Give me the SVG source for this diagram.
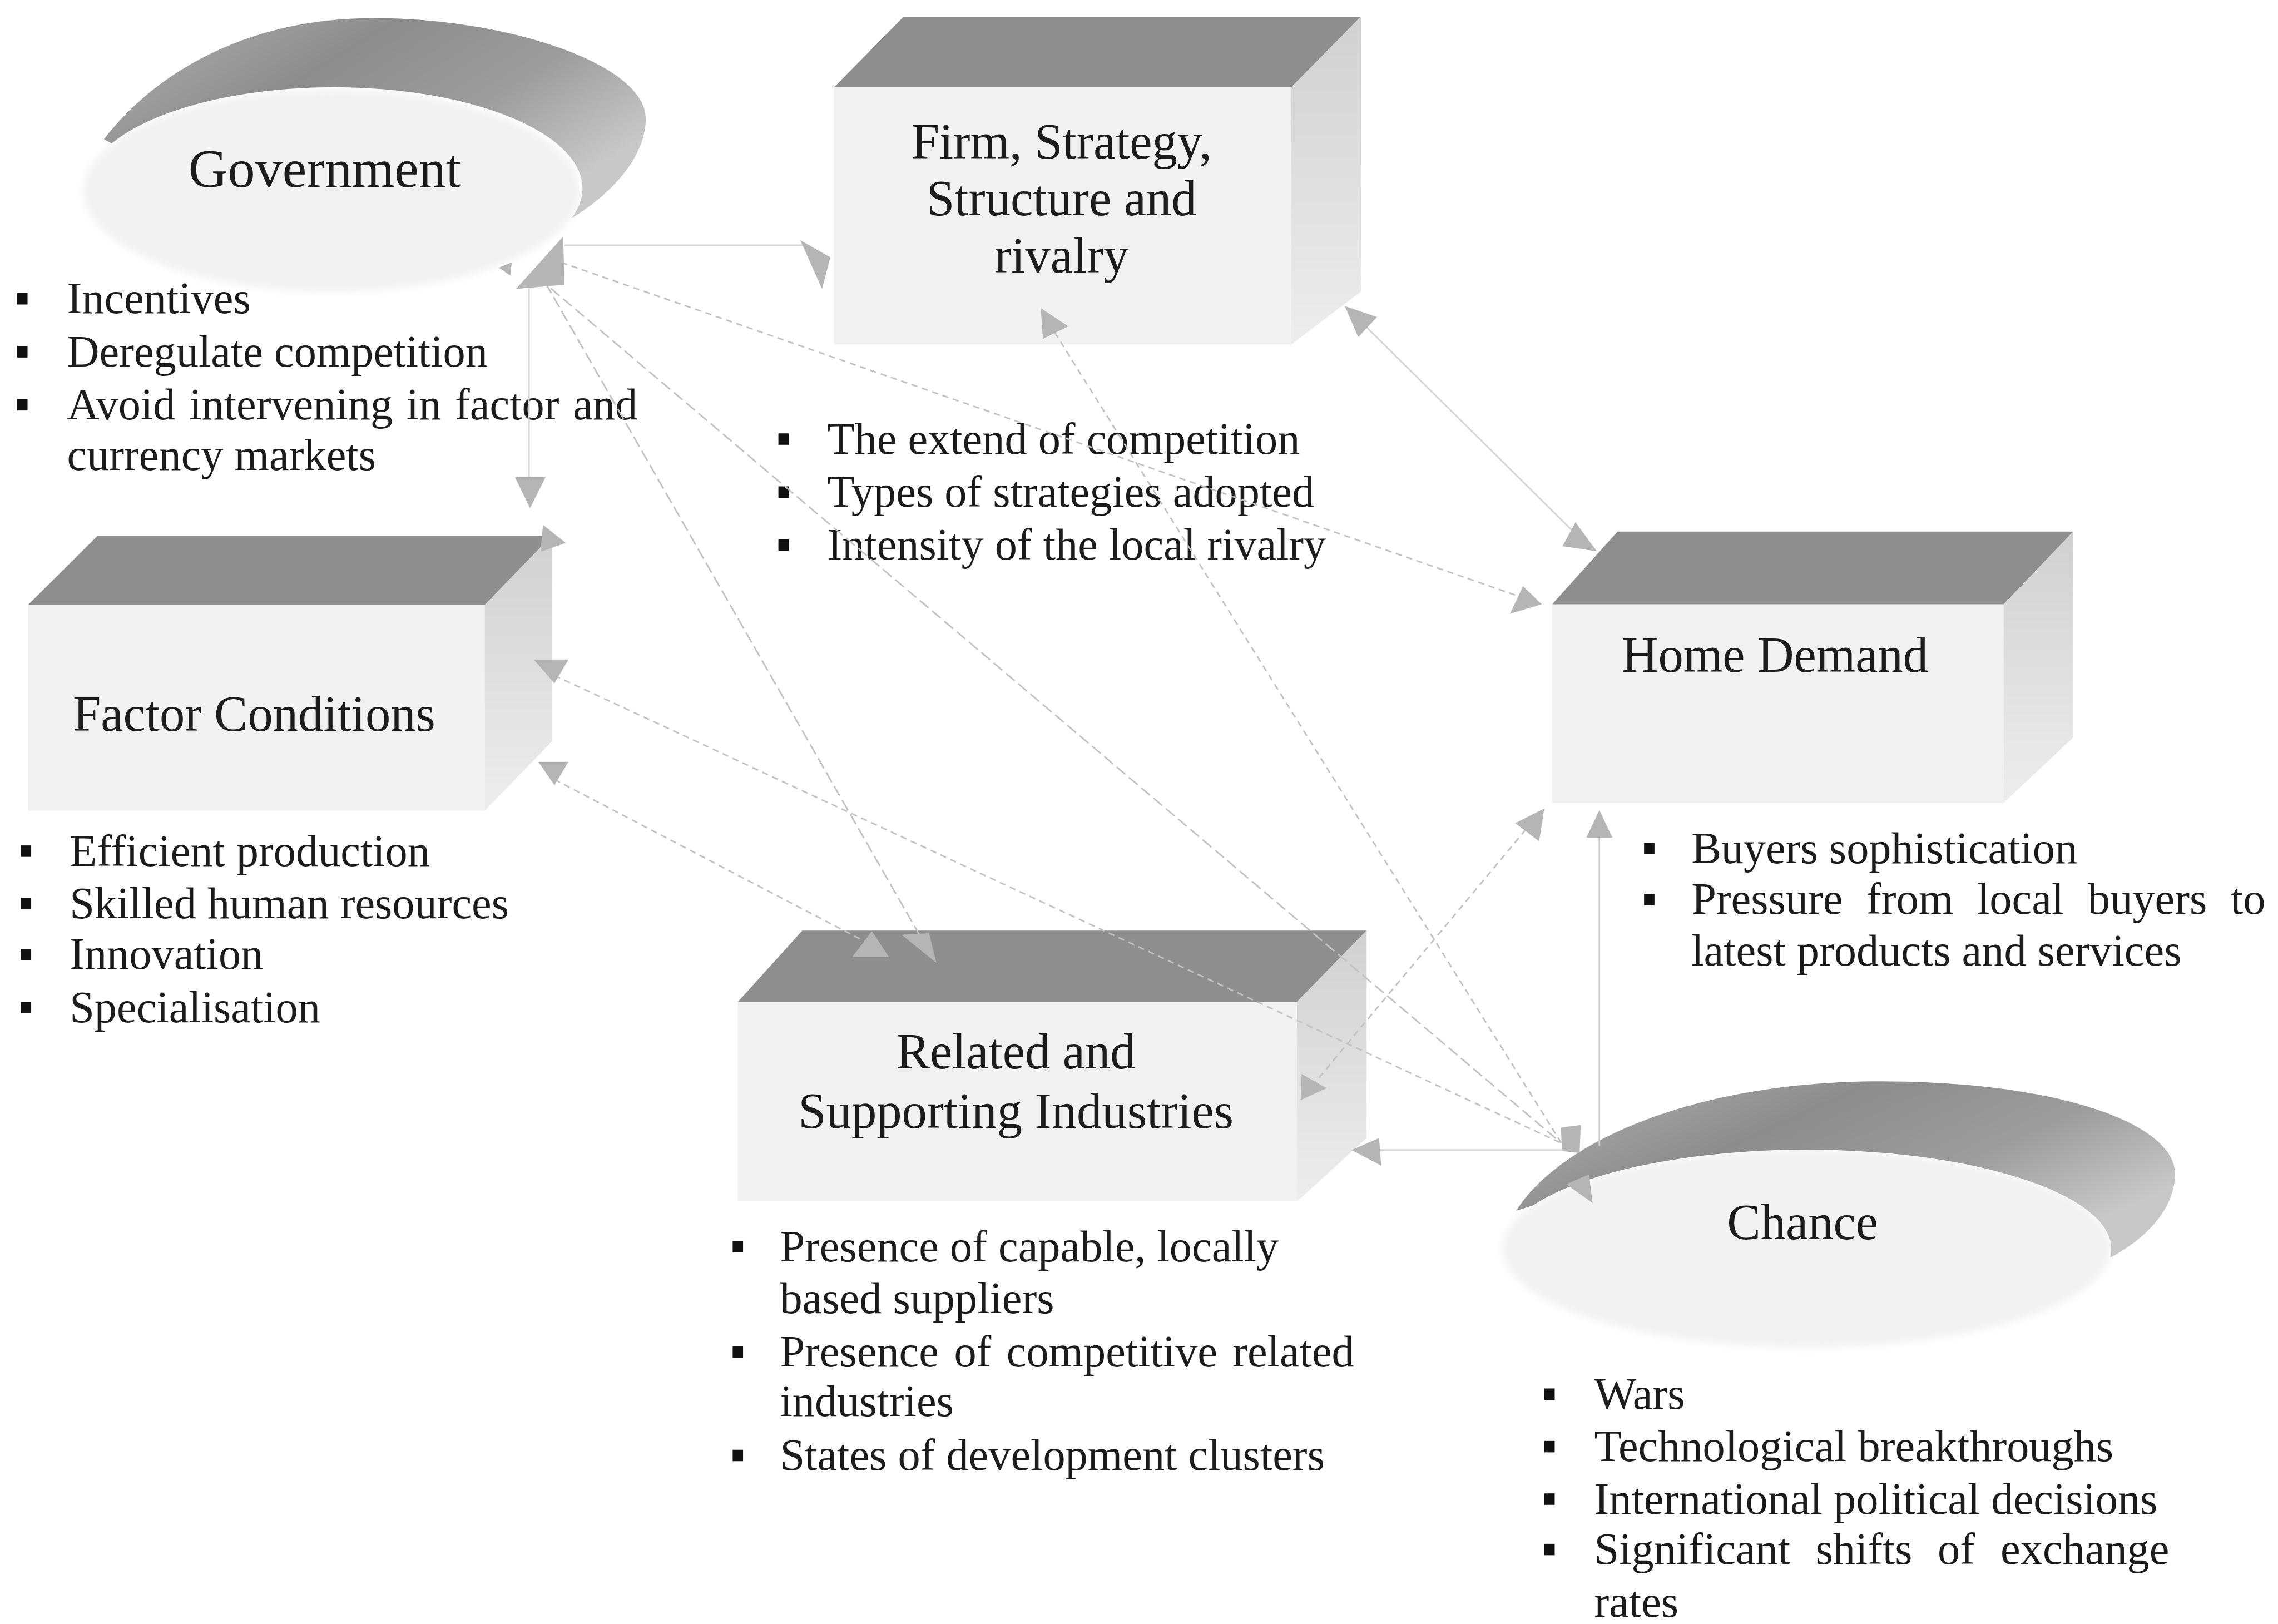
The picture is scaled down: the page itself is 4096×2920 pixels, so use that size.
<svg xmlns="http://www.w3.org/2000/svg" width="4096" height="2920" viewBox="0 0 4096 2920">
<defs>
<style>
.t{font-family:"Liberation Serif","Times New Roman",serif;fill:#1c1c1c}
.title{font-size:97px;text-anchor:middle}
.b{font-size:86px}
.sq{fill:#111}
.face{fill:#f2f2f2;filter:url(#soft)}
.front{fill:#f1f1f1}
.top{fill:#8e8e8e}
.side{fill:url(#sideG)}
.rim{fill:url(#rimG)}
.c{stroke:#c2c2c2;stroke-width:3;fill:none}
.d{stroke-dasharray:12 9}
.ld{stroke-dasharray:22 9}
.s{stroke:#d4d4d4}
.ah{fill:#b5b5b5}
</style>
<filter id="soft" x="-5%" y="-10%" width="110%" height="120%">
<feGaussianBlur stdDeviation="7"/>
</filter>
<linearGradient id="sideG" x1="0" y1="0" x2="0" y2="1">
<stop offset="0" stop-color="#d0d0d0"/>
<stop offset="1" stop-color="#ededed"/>
</linearGradient>
<linearGradient id="rimG" x1="0" y1="0" x2="1" y2="0.6">
<stop offset="0" stop-color="#b2b2b2"/>
<stop offset="0.4" stop-color="#8c8c8c"/>
<stop offset="0.7" stop-color="#9c9c9c"/>
<stop offset="1" stop-color="#c8c8c8"/>
</linearGradient>
</defs>
<rect width="4096" height="2920" fill="#ffffff"/>
<g transform="scale(0.93431)">

<!-- Government: disk with a dark rim -->
<g id="government">
<ellipse class="face" cx="638" cy="367" rx="478" ry="195"/>
<path class="rim" d="M200,268 C290,150 460,40 700,35 C960,30 1245,120 1243,230 C1240,320 1150,390 1100,420 A478 195 0 0 0 215,276 Z"/>
<text class="t" x="625" y="360" font-size="105" text-anchor="middle">Government</text>
<rect class="sq" x="33" y="564" width="20" height="22"/>
<rect class="sq" x="33" y="666" width="20" height="22"/>
<rect class="sq" x="33" y="768" width="20" height="22"/>
<text class="t b" x="129" y="603">Incentives</text>
<text class="t b" x="129" y="705">Deregulate competition</text>
<text class="t b" x="129" y="807" word-spacing="5">Avoid intervening in factor and</text>
<text class="t b" x="129" y="904">currency markets</text>
</g>

<!-- Firm, Strategy, Structure and rivalry -->
<g id="firm-strategy">
<rect class="front" x="1605" y="168" width="880" height="495"/>
<polygon class="top" points="1605,168 1739,32 2619,32 2485,168"/>
<polygon class="side" points="2485,168 2619,32 2619,561 2485,663"/>
<text class="t title" x="2043" y="305">Firm, Strategy,</text>
<text class="t title" x="2043" y="414">Structure and</text>
<text class="t title" x="2043" y="524">rivalry</text>
<rect class="sq" x="1498" y="834" width="20" height="22"/>
<rect class="sq" x="1498" y="936" width="20" height="22"/>
<rect class="sq" x="1498" y="1038" width="20" height="22"/>
<text class="t b" x="1592" y="873">The extend of competition</text>
<text class="t b" x="1592" y="975">Types of strategies adopted</text>
<text class="t b" x="1592" y="1077">Intensity of the local rivalry</text>
</g>

<!-- Home Demand -->
<g id="home-demand">
<rect class="front" x="2987" y="1163" width="869" height="382"/>
<polygon class="top" points="2987,1163 3113,1023 3990,1023 3856,1163"/>
<polygon class="side" points="3856,1163 3990,1023 3990,1419 3856,1545"/>
<text class="t title" x="3416" y="1293">Home Demand</text>
<rect class="sq" x="3164" y="1622" width="20" height="22"/>
<rect class="sq" x="3164" y="1720" width="20" height="22"/>
<text class="t b" x="3255" y="1661">Buyers sophistication</text>
<text class="t b" y="1759"><tspan x="3255">Pressure</tspan><tspan x="3592">from</tspan><tspan x="3805">local</tspan><tspan x="4018">buyers</tspan><tspan x="4293">to</tspan></text>
<text class="t b" x="3255" y="1858">latest products and services</text>
</g>

<!-- Factor Conditions -->
<g id="factor-conditions">
<rect class="front" x="54" y="1164" width="879" height="396"/>
<polygon class="top" points="54,1164 188,1031 1062,1031 933,1164"/>
<polygon class="side" points="933,1164 1062,1031 1062,1427 933,1560"/>
<text class="t title" x="489" y="1406">Factor Conditions</text>
<rect class="sq" x="40" y="1627" width="20" height="22"/>
<rect class="sq" x="40" y="1728" width="20" height="22"/>
<rect class="sq" x="40" y="1826" width="20" height="22"/>
<rect class="sq" x="40" y="1928" width="20" height="22"/>
<text class="t b" x="134" y="1666">Efficient production</text>
<text class="t b" x="134" y="1767">Skilled human resources</text>
<text class="t b" x="134" y="1865">Innovation</text>
<text class="t b" x="134" y="1967">Specialisation</text>
</g>

<!-- Related and Supporting Industries -->
<g id="related-industries">
<rect class="front" x="1420" y="1928" width="1076" height="384"/>
<polygon class="top" points="1420,1928 1544,1791 2630,1791 2496,1928"/>
<polygon class="side" points="2496,1928 2630,1791 2630,2190 2496,2312"/>
<text class="t title" x="1955" y="2056">Related and</text>
<text class="t title" x="1955" y="2171">Supporting Industries</text>
<rect class="sq" x="1410" y="2388" width="20" height="22"/>
<rect class="sq" x="1410" y="2591" width="20" height="22"/>
<rect class="sq" x="1410" y="2790" width="20" height="22"/>
<text class="t b" x="1501" y="2427">Presence of capable, locally</text>
<text class="t b" x="1501" y="2527">based suppliers</text>
<text class="t b" y="2630"><tspan x="1501">Presence</tspan><tspan x="1836">of</tspan><tspan x="1937">competitive</tspan><tspan x="2372">related</tspan></text>
<text class="t b" x="1501" y="2725">industries</text>
<text class="t b" x="1501" y="2829">States of development clusters</text>
</g>

<!-- Chance: disk with a dark rim -->
<g id="chance">
<ellipse class="face" cx="3477" cy="2403" rx="586" ry="191"/>
<path class="rim" d="M2918,2330 C3000,2200 3250,2085 3600,2081 C3950,2078 4190,2160 4186,2262 C4183,2340 4110,2395 4061,2420 A586 191 0 0 0 2950,2320 Z"/>
<text class="t title" x="3469" y="2385">Chance</text>
<rect class="sq" x="2972" y="2672" width="20" height="22"/>
<rect class="sq" x="2972" y="2773" width="20" height="22"/>
<rect class="sq" x="2972" y="2874" width="20" height="22"/>
<rect class="sq" x="2972" y="2971" width="20" height="22"/>
<text class="t b" x="3068" y="2711">Wars</text>
<text class="t b" x="3068" y="2812">Technological breakthroughs</text>
<text class="t b" x="3068" y="2913">International political decisions</text>
<text class="t b" y="3010"><tspan x="3068">Significant</tspan><tspan x="3494">shifts</tspan><tspan x="3729">of</tspan><tspan x="3850">exchange</tspan></text>
<text class="t b" x="3068" y="3111">rates</text>
</g>

<!-- Connectors between the six determinants -->
<g id="connectors">
<line class="c s" x1="1018" y1="555" x2="1018" y2="918"/>
<line class="c s" x1="1086" y1="472" x2="1545" y2="472"/>
<line class="c d" x1="1080" y1="505" x2="2930" y2="1150"/>
<line class="c ld" x1="1050" y1="545" x2="1770" y2="1800" stroke="#adadad"/>
<line class="c ld" x1="1060" y1="555" x2="3005" y2="2200"/>
<line class="c d" x1="1067" y1="1300" x2="3005" y2="2200"/>
<line class="c d" x1="1067" y1="1500" x2="1680" y2="1820"/>
<line class="c d" x1="2030" y1="640" x2="3005" y2="2200"/>
<line class="c s" x1="2615" y1="615" x2="3045" y2="1040"/>
<line class="c d" x1="2525" y1="2090" x2="2950" y2="1580"/>
<line class="c s" x1="3078" y1="1612" x2="3078" y2="2205"/>
<line class="c s" x1="2655" y1="2213" x2="3005" y2="2213"/>

<polygon class="ah" points="1084,455 1086,548 993,556" fill="#a6a6a6"/>
<polygon class="ah" points="960,515 985,505 982,530"/>
<polygon class="ah" points="991,918 1050,918 1020,978"/>
<polygon class="ah" points="1540,462 1598,495 1582,556"/>
<polygon class="ah" points="2003,593 2056,628 2007,652"/>
<polygon class="ah" points="2588,589 2650,610 2614,649"/>
<polygon class="ah" points="2931,1128 2967,1163 2906,1181"/>
<polygon class="ah" points="3032,1005 3073,1061 3007,1051"/>
<polygon class="ah" points="2972,1556 2962,1619 2916,1584"/>
<polygon class="ah" points="3078,1559 3103,1612 3053,1612"/>
<polygon class="ah" points="1045,1010 1089,1045 1040,1062"/>
<polygon class="ah" points="1027,1269 1094,1269 1067,1315"/>
<polygon class="ah" points="1036,1466 1094,1466 1067,1511"/>
<polygon class="ah" points="1678,1792 1711,1842 1640,1842" fill="#c6c6c6"/>
<polygon class="ah" points="1735,1799 1788,1796 1802,1853" fill="#c0c0c0"/>
<polygon class="ah" points="2505,2067 2553,2094 2503,2117"/>
<polygon class="ah" points="2601,2213 2654,2190 2658,2243"/>
<polygon class="ah" points="3014,2279 3058,2260 3065,2315"/>
<polygon class="ah" points="3004,2170 3042,2165 3040,2219 3006,2215"/>
</g>

</g>
</svg>
